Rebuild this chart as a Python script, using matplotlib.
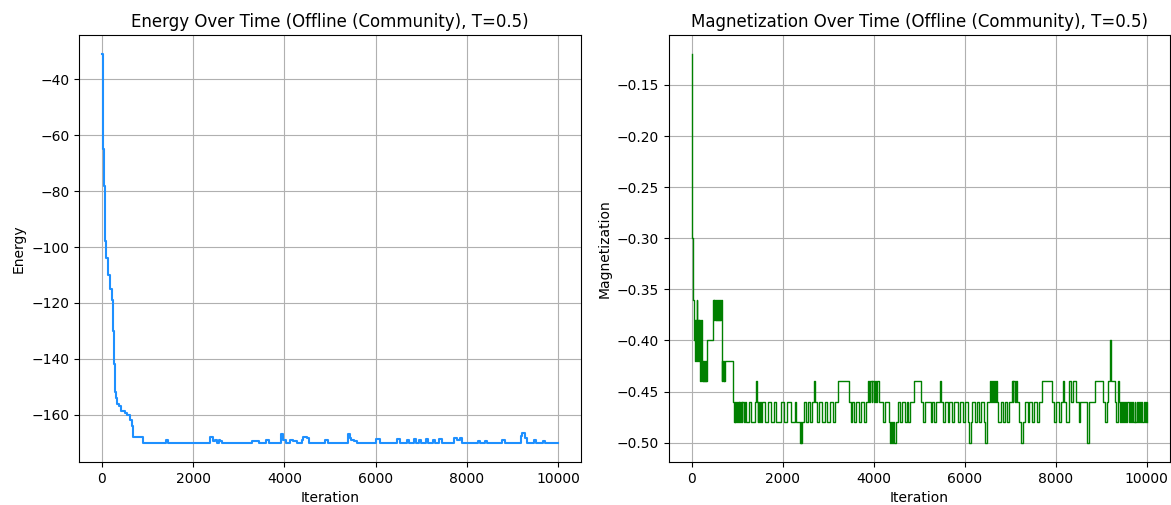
import matplotlib
matplotlib.use("Agg")
import matplotlib.pyplot as plt

# energy trace, change points (iteration, value)
energy_points = [
    (0, -31), (15, -50), (30, -65), (45, -78), (60, -90), (80, -98),
    (100, -104), (130, -110), (170, -115), (215, -119), (240, -122),
    (255, -130), (270, -142), (285, -152), (300, -154), (330, -156),
    (380, -157), (430, -158.5), (500, -159.5), (560, -160), (620, -162),
    (660, -164), (680, -168), (905, -170), (1400, -169), (1460, -170),
    (2380, -168), (2430, -169.5), (2480, -169), (2520, -170), (2560, -169),
    (2600, -169.5), (2640, -170), (3300, -169.5), (3450, -170), (3600, -169),
    (3660, -170), (3930, -167), (3980, -169), (4040, -170), (4120, -169),
    (4180, -169.5), (4280, -170), (4380, -169), (4420, -167.8), (4490, -168.5),
    (4540, -170), (4900, -169), (4960, -170), (5400, -167), (5440, -168.5),
    (5470, -169), (5520, -169.5), (5600, -170), (6020, -168.6), (6090, -170),
    (6480, -168.8), (6530, -170), (6700, -169), (6740, -170), (6840, -168.8),
    (6880, -170), (6960, -169), (7000, -170), (7100, -168.8), (7150, -170),
    (7260, -169), (7300, -170), (7400, -168.8), (7450, -170), (7720, -168.5),
    (7780, -169), (7850, -168.5), (7900, -170), (8250, -169.5), (8300, -170),
    (8400, -169.5), (8450, -170), (8780, -169), (8830, -170), (9180, -167.5),
    (9220, -166.5), (9280, -168.5), (9320, -170), (9480, -169), (9520, -170),
    (9680, -169.5), (9720, -170), (10000, -170),
]

# magnetization trace, change points (iteration, value)
mag_points = [
    (0, -0.12), (10, -0.30), (20, -0.36), (40, -0.38), (50, -0.36),
    (60, -0.40), (70, -0.38), (80, -0.42), (90, -0.38), (100, -0.40),
    (110, -0.36), (120, -0.42), (130, -0.40), (145, -0.38), (155, -0.42),
    (165, -0.38), (180, -0.44), (195, -0.40), (210, -0.38), (225, -0.42),
    (235, -0.44), (245, -0.42), (255, -0.44), (265, -0.42), (275, -0.44),
    (285, -0.42), (295, -0.44), (305, -0.42), (315, -0.44), (325, -0.42),
    (345, -0.40), (470, -0.36), (480, -0.38), (490, -0.36), (500, -0.38),
    (510, -0.36), (520, -0.38), (530, -0.36), (540, -0.38), (550, -0.36),
    (560, -0.38), (570, -0.36), (580, -0.38), (590, -0.36), (600, -0.38),
    (615, -0.36), (625, -0.38), (640, -0.36), (655, -0.42), (665, -0.44),
    (675, -0.42), (690, -0.44), (700, -0.42), (710, -0.44), (725, -0.42),
    (905, -0.46), (925, -0.48), (945, -0.46), (960, -0.48), (980, -0.46),
    (995, -0.48), (1010, -0.46), (1030, -0.48), (1045, -0.46), (1060, -0.48),
    (1080, -0.46), (1095, -0.48), (1110, -0.46), (1150, -0.48), (1170, -0.46),
    (1190, -0.48), (1260, -0.46), (1300, -0.48), (1390, -0.46), (1410, -0.44),
    (1430, -0.46), (1450, -0.48), (1465, -0.46), (1480, -0.48), (1500, -0.46),
    (1520, -0.48), (1550, -0.46), (1620, -0.48), (1680, -0.46), (1750, -0.48),
    (1800, -0.46), (1860, -0.48), (1960, -0.46), (2020, -0.48), (2100, -0.46),
    (2180, -0.48), (2260, -0.46), (2300, -0.48), (2370, -0.50), (2390, -0.48),
    (2405, -0.50), (2430, -0.48), (2470, -0.46), (2520, -0.48), (2560, -0.46),
    (2600, -0.48), (2640, -0.46), (2680, -0.44), (2710, -0.46), (2750, -0.48),
    (2800, -0.46), (2870, -0.48), (2920, -0.46), (2980, -0.48), (3040, -0.46),
    (3100, -0.48), (3140, -0.46), (3220, -0.44), (3460, -0.46), (3500, -0.48),
    (3530, -0.46), (3570, -0.48), (3620, -0.46), (3680, -0.48), (3720, -0.46),
    (3780, -0.48), (3830, -0.46), (3880, -0.44), (3900, -0.46), (3920, -0.44),
    (3950, -0.46), (3970, -0.44), (4000, -0.46), (4030, -0.44), (4050, -0.46),
    (4070, -0.44), (4110, -0.46), (4200, -0.48), (4250, -0.46), (4330, -0.48),
    (4360, -0.50), (4380, -0.48), (4400, -0.50), (4420, -0.48), (4440, -0.50),
    (4480, -0.48), (4530, -0.46), (4580, -0.48), (4620, -0.46), (4680, -0.48),
    (4720, -0.46), (4760, -0.48), (4800, -0.46), (4880, -0.44), (5030, -0.46),
    (5080, -0.48), (5130, -0.46), (5250, -0.48), (5290, -0.46), (5330, -0.48),
    (5370, -0.46), (5450, -0.44), (5475, -0.46), (5520, -0.48), (5560, -0.46),
    (5620, -0.48), (5660, -0.46), (5720, -0.48), (5760, -0.46), (5850, -0.48),
    (5900, -0.46), (5960, -0.48), (6000, -0.46), (6080, -0.48), (6100, -0.50),
    (6130, -0.48), (6160, -0.46), (6220, -0.48), (6260, -0.46), (6320, -0.48),
    (6360, -0.46), (6420, -0.48), (6450, -0.50), (6490, -0.46), (6560, -0.44),
    (6580, -0.46), (6600, -0.44), (6620, -0.46), (6640, -0.44), (6660, -0.46),
    (6690, -0.44), (6710, -0.46), (6740, -0.48), (6790, -0.46), (6830, -0.48),
    (6880, -0.46), (6920, -0.48), (6980, -0.46), (7030, -0.44), (7050, -0.46),
    (7070, -0.44), (7100, -0.46), (7120, -0.44), (7150, -0.46), (7180, -0.48),
    (7240, -0.50), (7280, -0.48), (7330, -0.46), (7380, -0.48), (7420, -0.46),
    (7480, -0.48), (7520, -0.46), (7580, -0.48), (7640, -0.46), (7690, -0.44),
    (7910, -0.46), (7960, -0.48), (8000, -0.46), (8080, -0.48), (8110, -0.46),
    (8150, -0.44), (8180, -0.46), (8230, -0.48), (8290, -0.44), (8330, -0.46),
    (8380, -0.44), (8440, -0.46), (8500, -0.48), (8540, -0.46), (8680, -0.50),
    (8720, -0.46), (8855, -0.44), (9040, -0.46), (9080, -0.48), (9120, -0.46),
    (9150, -0.44), (9200, -0.40), (9220, -0.44), (9300, -0.46), (9320, -0.48),
    (9360, -0.44), (9380, -0.46), (9420, -0.48), (9440, -0.46), (9460, -0.48),
    (9480, -0.46), (9500, -0.48), (9530, -0.46), (9550, -0.48), (9570, -0.46),
    (9600, -0.48), (9620, -0.46), (9650, -0.48), (9680, -0.46), (9700, -0.48),
    (9730, -0.46), (9750, -0.48), (9780, -0.46), (9800, -0.48), (9830, -0.46),
    (9850, -0.48), (9880, -0.46), (9900, -0.48), (9930, -0.46), (9950, -0.48),
    (9980, -0.46), (10000, -0.48),
]

energy_iter = [p[0] for p in energy_points]
energy_vals = [p[1] for p in energy_points]
mag_iter = [p[0] for p in mag_points]
mag_vals = [p[1] for p in mag_points]

fig = plt.figure(figsize=(11.71, 5.05), dpi=100)
ax1 = fig.add_axes([0.0675, 0.085, 0.4285, 0.846])
ax2 = fig.add_axes([0.5713, 0.085, 0.4275, 0.846])

ax1.plot(energy_iter, energy_vals, color="dodgerblue", drawstyle="steps-post", linewidth=1.5)
ax1.set_title("Energy Over Time (Offline (Community), T=0.5)")
ax1.set_xlabel("Iteration")
ax1.set_ylabel("Energy")
ax1.grid(True)

ax2.plot(mag_iter, mag_vals, color="green", drawstyle="steps-post", linewidth=1)
ax2.set_title("Magnetization Over Time (Offline (Community), T=0.5)")
ax2.set_xlabel("Iteration")
ax2.set_ylabel("Magnetization")
ax2.grid(True)

fig.savefig("out.png", dpi=100)
